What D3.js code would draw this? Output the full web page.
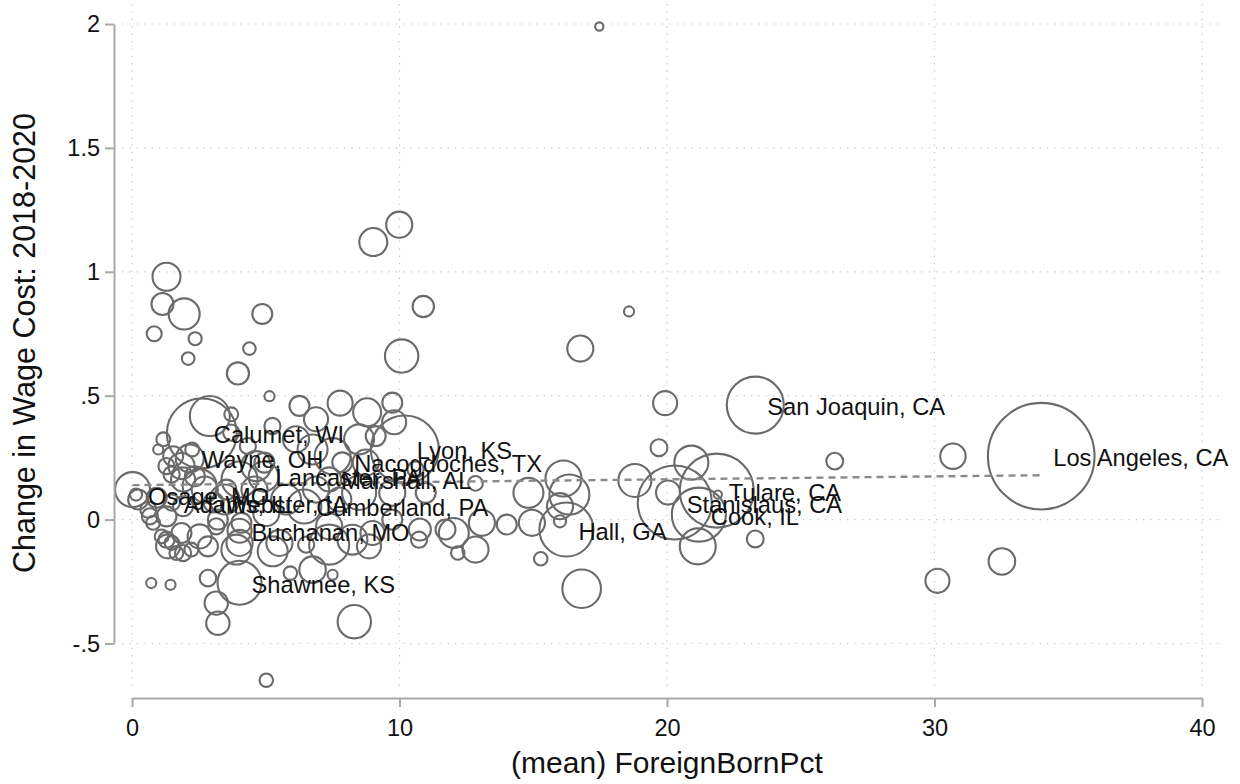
<!DOCTYPE html>
<html>
<head>
<meta charset="utf-8">
<script src="https://cdn.jsdelivr.net/npm/d3@7"></script>
<style>
  body { margin: 0; background: #fff; }
  svg { display: block; font-family: "Liberation Sans", Arial, Helvetica, sans-serif; }
</style>
</head>
<body>
<svg id="chart" width="1240" height="784"></svg>
<script>
// Counties carrying a marker label
const labeledCounties = ["Los Angeles, CA", "San Joaquin, CA", "Tulare, CA", "Stanislaus, CA", "Cook, IL",
  "Hall, GA", "Lyon, KS", "Nacogdoches, TX", "Marshall, AL", "Lancaster, PA", "Cumberland, PA",
  "Calumet, WI", "Wayne, OH", "Osage, MO", "Adams, IL", "Webster, IA", "Buchanan, MO", "Shawnee, KS"];
const labeledForeignBorn = [33.99, 23.30, 21.86, 20.29, 21.19, 16.24, 10.20, 7.86, 7.37, 4.92, 6.44,
  2.61, 2.16, 0.15, 1.49, 3.05, 4.02, 4.02];
const labeledWageChange = [0.256, 0.462, 0.117, 0.069, 0.020, -0.040, 0.283, 0.231, 0.162, 0.174, 0.053,
  0.348, 0.247, 0.101, 0.069, 0.069, -0.045, -0.255];
const labeledWeight = [100, 28.6, 48.2, 48.2, 25.7, 25.7, 40.7, 3.5, 5.1, 7.9, 10.2,
  43.1, 6.9, 1.3, 2.3, 3.5, 5.1, 17.0];

// Remaining counties (no label)
const otherForeignBorn = [17.47, 9.99, 9.02, 1.29, 1.14, 1.95, 0.83, 2.36, 2.10, 4.87, 4.39, 3.96, 10.89, 10.08,
  18.58, 16.76, 19.93, 19.70, 20.91, 26.27, 30.69, 18.80, 20.04, 21.15, 23.30, 21.90, 32.52, 30.11,
  16.13, 16.35, 16.00, 16.00, 14.82, 14.95, 14.01, 13.08, 12.84, 12.03, 12.18, 15.28, 16.81, 12.84,
  10.76, 11.72, 9.73, 9.80, 10.60, 6.26, 7.78, 8.79, 6.88, 5.25, 6.13, 6.75, 7.50, 8.49, 8.74, 9.11,
  4.64, 4.02, 3.53, 5.02, 5.51, 5.76, 6.88, 7.37, 7.75, 8.49, 8.99, 9.73, 9.73, 8.24, 8.86, 10.98,
  2.91, 3.71, 1.17, 2.25, 0.02, 0.23, 0.61, 0.79, 1.11, 1.48, 0.92, 1.85, 2.22, 2.84, 1.85, 1.48,
  2.35, 2.72, 3.46, 3.21, 4.09, 4.58, 4.95, 4.33, 3.71, 0.98, 2.53, 1.91, 1.29, 1.54, 0.67, 1.29,
  1.91, 1.29, 1.66, 2.53, 3.15, 4.02, 0.72, 1.44, 2.84, 3.15, 3.21, 8.31, 5.92, 6.75, 7.50, 5.02,
  1.35, 1.91, 3.90, 5.26, 6.51, 7.37, 10.73, 5.14];
const otherWageChange = [1.99, 1.19, 1.12, 0.98, 0.87, 0.83, 0.75, 0.73, 0.65, 0.83, 0.69, 0.59, 0.86, 0.66,
  0.84, 0.69, 0.47, 0.29, 0.23, 0.236, 0.256, 0.158, 0.109, -0.108, -0.078, 0.101, -0.169, -0.247,
  0.166, 0.101, 0.054, -0.007, 0.108, -0.013, -0.020, -0.013, -0.121, -0.054, -0.135, -0.158, -0.279, 0.146,
  -0.040, -0.040, 0.472, 0.393, 0.202, 0.459, 0.470, 0.433, 0.405, 0.378, 0.324, 0.283, 0.256, 0.324, 0.230, 0.337,
  0.216, 0.162, 0.121, 0.027, -0.094, 0.081, 0.121, -0.027, 0.081, 0.108, -0.054, 0.000, 0.108, -0.081, -0.108, 0.108,
  0.418, 0.425, 0.324, 0.283, 0.121, 0.081, 0.040, -0.013, -0.068, -0.094, 0.088, -0.054, -0.121, -0.108, 0.216, 0.182,
  0.175, 0.121, 0.081, 0.000, -0.013, 0.121, 0.230, 0.297, 0.351, 0.283, 0.135, 0.162, 0.216, 0.256, 0.013, 0.013,
  0.054, -0.081, -0.135, -0.068, -0.027, -0.094, -0.256, -0.263, -0.236, -0.337, -0.418, -0.412, -0.216, -0.202, -0.223, -0.648,
  -0.108, -0.135, -0.121, -0.128, -0.101, -0.101, -0.081, 0.498];
const otherWeight = [0.6, 6.0, 6.9, 6.9, 4.3, 8.5, 2.0, 1.5, 1.4, 3.5, 1.4, 4.3, 4.0, 9.8,
  0.9, 6.0, 5.1, 2.5, 10.2, 2.5, 5.7, 9.6, 5.1, 11.4, 2.5, 0.6, 6.2, 5.1,
  11.4, 14.1, 6.0, 1.3, 7.9, 6.0, 3.5, 6.0, 6.0, 7.9, 1.6, 1.6, 13.1, 1.9,
  4.3, 3.5, 3.5, 5.1, 2.3, 3.5, 5.5, 6.9, 5.1, 2.3, 6.0, 7.9, 11.4, 7.9, 6.0, 3.5,
  7.9, 11.4, 3.5, 6.0, 6.0, 7.9, 6.0, 6.0, 5.1, 10.2, 5.1, 3.5, 6.0, 7.9, 5.1, 3.5,
  14.1, 1.7, 1.7, 1.7, 10.8, 3.5, 2.3, 1.7, 1.7, 1.7, 3.5, 3.5, 1.7, 3.5, 6.0, 2.3,
  3.5, 6.0, 7.9, 3.5, 3.5, 6.0, 3.5, 2.3, 2.3, 0.9, 10.2, 5.1, 2.3, 3.5, 2.3, 3.5,
  3.5, 2.3, 1.7, 5.1, 2.3, 6.0, 0.9, 0.9, 2.4, 4.8, 4.8, 9.8, 1.6, 6.2, 0.9, 1.6,
  5.1, 2.3, 7.9, 7.9, 2.3, 14.1, 2.3, 0.9];

// Fitted line end points
const fitForeignBorn = [0.02, 33.99];
const fitWageChange = [0.139, 0.179];

// Axis ticks
const xTickValues = [0, 10, 20, 30, 40];
const xTickLabels = ["0", "10", "20", "30", "40"];
const yTickValues = [-0.5, 0, 0.5, 1, 1.5, 2];
const yTickLabels = ["-.5", "0", ".5", "1", "1.5", "2"];

const points = [];
labeledCounties.forEach((name, i) => points.push({
  fb: labeledForeignBorn[i], wc: labeledWageChange[i], w: labeledWeight[i], name
}));
otherForeignBorn.forEach((fb, i) => points.push({
  fb, wc: otherWageChange[i], w: otherWeight[i], name: ""
}));

const svg = d3.select("#chart");
const x = d3.scaleLinear().domain([0, 40]).range([132, 1202]);
const y = d3.scaleLinear().domain([-0.5, 2]).range([643.5, 24]);
const r = d3.scaleSqrt().domain([0, 100]).range([0, 53.3]);

// Dotted grid
const grid = svg.append("g").attr("stroke", "#c4c4c4").attr("stroke-width", 1.2)
  .attr("stroke-dasharray", "1.2,6.2");
grid.selectAll("line.h").data(yTickValues).join("line").attr("class", "h")
  .attr("x1", 122).attr("x2", 1222).attr("y1", d => y(d)).attr("y2", d => y(d));
grid.selectAll("line.v").data(xTickValues).join("line").attr("class", "v")
  .attr("x1", d => x(d)).attr("x2", d => x(d)).attr("y1", 4).attr("y2", 692);

// Bubbles (area proportional to weight), largest first
const sorted = points.slice().sort((a, b) => b.w - a.w);
svg.append("g").selectAll("circle").data(sorted).join("circle")
  .attr("cx", d => x(d.fb)).attr("cy", d => y(d.wc)).attr("r", d => r(d.w))
  .attr("fill", "none").attr("stroke", "#6a6a6a").attr("stroke-width", 2.1);

// Fitted line
svg.append("line")
  .attr("x1", x(fitForeignBorn[0])).attr("y1", y(fitWageChange[0]))
  .attr("x2", x(fitForeignBorn[1])).attr("y2", y(fitWageChange[1]))
  .attr("stroke", "#8a8a8a").attr("stroke-width", 2.4).attr("stroke-dasharray", "7,5");

// Marker labels
svg.append("g").selectAll("text").data(points.filter(d => d.name)).join("text")
  .attr("x", d => x(d.fb) + 12).attr("y", d => y(d.wc) + 2)
  .attr("dominant-baseline", "central").attr("font-size", 23.7).attr("fill", "#111")
  .text(d => d.name);

// Axes
const yAxis = svg.append("g").attr("transform", "translate(114,0)")
  .call(d3.axisLeft(y).tickValues(yTickValues).tickSize(9).tickSizeOuter(0).tickPadding(5)
    .tickFormat((d, i) => yTickLabels[i]));
const xAxis = svg.append("g").attr("transform", "translate(0,698)")
  .call(d3.axisBottom(x).tickValues(xTickValues).tickSize(9).tickSizeOuter(0).tickPadding(12)
    .tickFormat((d, i) => xTickLabels[i]));
[yAxis, xAxis].forEach(g => {
  g.selectAll("path, line").attr("stroke", "#a9a9a9").attr("stroke-width", 2);
  g.selectAll("text").attr("font-size", 23.5).attr("fill", "#111")
    .attr("font-family", "\"Liberation Sans\", Arial, Helvetica, sans-serif");
});

// Axis titles
svg.append("text").attr("x", 667).attr("y", 762).attr("text-anchor", "middle")
  .attr("dominant-baseline", "central").attr("font-size", 30).attr("fill", "#111")
  .text("(mean) ForeignBornPct");
svg.append("text").attr("transform", "translate(24,343) rotate(-90)").attr("text-anchor", "middle")
  .attr("dominant-baseline", "central").attr("font-size", 30.5).attr("fill", "#111")
  .text("Change in Wage Cost: 2018-2020");
</script>
</body>
</html>
